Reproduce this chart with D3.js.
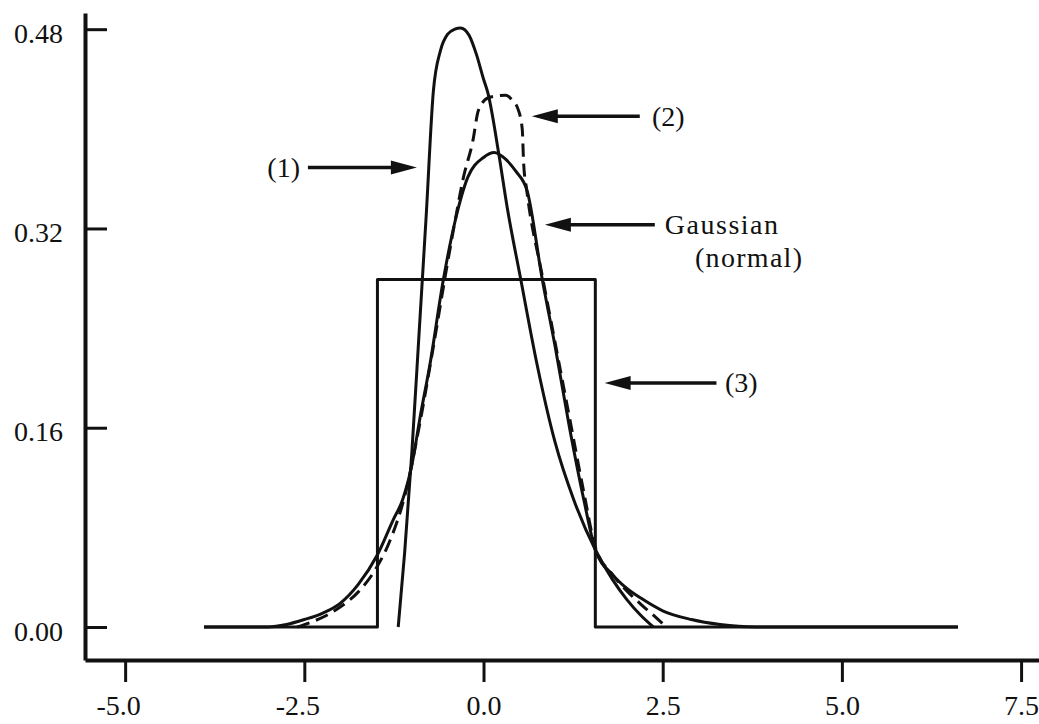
<!DOCTYPE html>
<html>
<head>
<meta charset="utf-8">
<script src="https://cdn.jsdelivr.net/npm/d3@7"></script>
<style>
  html, body { margin: 0; padding: 0; background: #fff; }
  svg { display: block; }
  text { font-family: "Liberation Serif", "Times New Roman", serif; fill: #111; }
</style>
</head>
<body>
<svg id="chart" width="1039" height="724"></svg>
<script>
// ---- tick values and labels ----
const xTickValues = [-5.0, -2.5, 0.0, 2.5, 5.0, 7.5];
const xTickLabels = ["-5.0", "-2.5", "0.0", "2.5", "5.0", "7.5"];
const yTickValues = [0.00, 0.16, 0.32, 0.48];
const yTickLabels = ["0.00", "0.16", "0.32", "0.48"];

// ---- series (1): skewed, tall solid curve ----
const s1X = [-1.19, -1.1, -1.0, -0.9, -0.8, -0.7, -0.6, -0.5, -0.4, -0.32, -0.2, -0.1, 0.0, 0.06, 0.21, 0.33, 0.52, 0.75, 1.0, 1.26, 1.56, 1.8, 2.0, 2.2, 2.37];
const s1Y = [0.0, 0.06, 0.14, 0.235, 0.33, 0.43, 0.463, 0.476, 0.48, 0.481, 0.475, 0.46, 0.44, 0.429, 0.381, 0.337, 0.279, 0.21, 0.148, 0.102, 0.062, 0.038, 0.022, 0.009, 0.0];

// ---- series (2): dashed curve ----
const s2X = [-2.6, -2.4, -2.2, -2.0, -1.75, -1.5, -1.3, -1.1, -0.9, -0.7, -0.5, -0.4, -0.28, -0.15, -0.07, 0.07, 0.31, 0.40, 0.48, 0.54, 0.56, 0.6, 0.82, 1.0, 1.2, 1.4, 1.56, 1.8, 2.0, 2.2, 2.4, 2.55];
const s2Y = [0.0, 0.004, 0.009, 0.016, 0.028, 0.047, 0.07, 0.105, 0.16, 0.225, 0.293, 0.325, 0.361, 0.39, 0.415, 0.425, 0.427, 0.423, 0.416, 0.400, 0.372, 0.352, 0.282, 0.228, 0.168, 0.108, 0.064, 0.042, 0.029, 0.018, 0.008, 0.0];

// ---- Gaussian (normal) ----
const gaussX = [-3.9, -3.0, -2.75, -2.5, -2.25, -2.0, -1.75, -1.48, -1.26, -1.13, -1.0, -0.88, -0.75, -0.56, -0.4, -0.22, 0.0, 0.15, 0.3, 0.45, 0.61, 0.82, 1.0, 1.2, 1.4, 1.56, 1.8, 2.0, 2.2, 2.5, 2.9, 3.3, 3.8, 6.62];
const gaussY = [0.0, 0.0, 0.002, 0.006, 0.011, 0.019, 0.034, 0.058, 0.086, 0.102, 0.13, 0.17, 0.21, 0.279, 0.325, 0.361, 0.377, 0.381, 0.376, 0.366, 0.35, 0.279, 0.225, 0.16, 0.102, 0.062, 0.042, 0.031, 0.023, 0.013, 0.006, 0.002, 0.0, 0.0];

// ---- series (3): rectangular (uniform) ----
const s3X = [-3.9, -1.48, -1.48, 1.56, 1.56, 6.62];
const s3Y = [0.0, 0.0, 0.279, 0.279, 0.0, 0.0];

// ---- annotations (data coordinates) ----
const annoLabels = ["(1)", "(2)", "Gaussian", "(3)"];
const annoTailX  = [-2.45, 2.18, 2.39, 3.25];
const annoTipX   = [-0.93, 0.674, 0.856, 1.69];
const annoY      = [0.369, 0.410, 0.323, 0.196];
const annoTextX  = [-2.56, 2.35, 2.53, 3.37];
const annoAnchor = ["end", "start", "start", "start"];
const subLabel = "(normal)";
const subLabelX = 2.95, subLabelY = 0.289;

// ---- drawing ----
const W = 1039, H = 724;
const svg = d3.select("#chart");
svg.append("rect").attr("width", W).attr("height", H).attr("fill", "#fff");

const x = d3.scaleLinear().domain([-5.56, 7.75]).range([85, 1039]);
const y = d3.scaleLinear().domain([-0.0265, 0.493]).range([660, 13]);

// axes
const gx = svg.append("g").attr("transform", `translate(0,${y(-0.0265)})`)
  .call(d3.axisBottom(x).tickValues(xTickValues).tickSize(22).tickSizeOuter(0)
        .tickFormat((d, i) => xTickLabels[i]));
gx.select(".domain").attr("stroke", "#111").attr("stroke-width", 4);
gx.selectAll(".tick line").attr("stroke", "#111").attr("stroke-width", 3);
gx.selectAll(".tick text")
  .attr("y", 55).attr("dy", "0")
  .attr("dx", d => d < 0 ? -7 : 0)
  .style("font-size", "28px").style("font-family", "Liberation Serif, serif").attr("fill", "#111");

const gy = svg.append("g").attr("transform", `translate(${x(-5.56)},0)`)
  .call(d3.axisLeft(y).tickValues(yTickValues).tickSize(-22).tickSizeOuter(0).tickPadding(22)
        .tickFormat((d, i) => yTickLabels[i]));
gy.select(".domain").attr("stroke", "#111").attr("stroke-width", 4);
gy.selectAll(".tick line").attr("stroke", "#111").attr("stroke-width", 3);
gy.selectAll(".tick text")
  .attr("dy", "0.47em")
  .style("font-size", "28px").style("font-family", "Liberation Serif, serif").attr("fill", "#111");

// lines
function drawSeries(xs, ys, curve, dash) {
  const pts = xs.map((v, i) => [v, ys[i]]);
  const line = d3.line().x(d => x(d[0])).y(d => y(d[1])).curve(curve);
  svg.append("path").datum(pts)
    .attr("d", line)
    .attr("fill", "none")
    .attr("stroke", "#111")
    .attr("stroke-width", 3)
    .attr("stroke-linejoin", "round")
    .attr("stroke-dasharray", dash || null);
}
drawSeries(s3X, s3Y, d3.curveLinear);
drawSeries(gaussX, gaussY, d3.curveMonotoneX);
drawSeries(s1X, s1Y, d3.curveMonotoneX);
drawSeries(s2X, s2Y, d3.curveMonotoneX, "13,7");

// annotations
annoLabels.forEach((lab, i) => {
  const tx = x(annoTipX[i]), ty = y(annoY[i]), sx = x(annoTailX[i]);
  const dir = Math.sign(tx - sx);
  const headLen = 26, headHalf = 7;
  svg.append("line")
    .attr("x1", sx).attr("y1", ty)
    .attr("x2", tx - dir * headLen * 0.8).attr("y2", ty)
    .attr("stroke", "#111").attr("stroke-width", 3.5);
  svg.append("path")
    .attr("d", `M${tx},${ty} L${tx - dir * headLen},${ty - headHalf} L${tx - dir * headLen},${ty + headHalf} Z`)
    .attr("fill", "#111");
  svg.append("text")
    .attr("x", x(annoTextX[i])).attr("y", ty)
    .attr("dy", "0.33em")
    .attr("text-anchor", annoAnchor[i])
    .style("font-size", "28px")
    .style("letter-spacing", lab === "Gaussian" ? "1.5px" : "0px")
    .text(lab);
});
svg.append("text")
  .attr("x", x(subLabelX)).attr("y", y(subLabelY))
  .style("font-size", "28px").style("letter-spacing", "1.3px")
  .text(subLabel);
</script>
</body>
</html>
